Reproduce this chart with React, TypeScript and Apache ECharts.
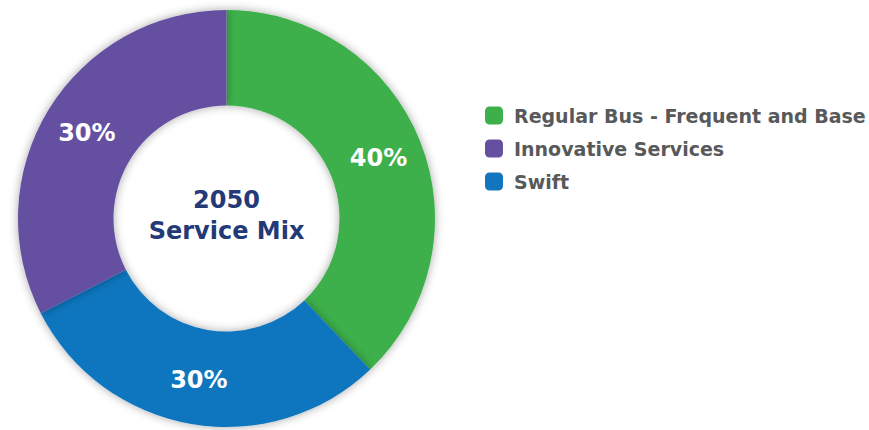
import React, { useEffect, useRef } from "react";
import * as echarts from "echarts";

const categories = ["Regular Bus - Frequent and Base", "Swift", "Innovative Services"];
const sliceValues = [37.9, 29.6, 32.5];
const sliceLabels = ["40%", "30%", "30%"];
const sliceColors = ["#3DB04B", "#1176BE", "#654FA0"];
const legendOrder = ["Regular Bus - Frequent and Base", "Innovative Services", "Swift"];
const centerTitle = "2050\nService Mix";

const FONT = "DejaVu Sans";

export default function App() {
  const ref = useRef<HTMLDivElement>(null);
  useEffect(() => {
    if (!ref.current) return;
    const chart = echarts.init(ref.current, null, { renderer: "svg" });
    chart.setOption({
      animation: false,
      backgroundColor: "#ffffff",
      legend: {
        data: legendOrder,
        orient: "vertical",
        left: 480,
        top: 101,
        itemWidth: 18,
        itemHeight: 18,
        itemGap: 14,
        icon: "roundRect",
        textStyle: {
          fontFamily: FONT,
          fontWeight: 700,
          fontSize: 19,
          color: "#58595B",
          padding: [0, 0, 0, 6],
        },
        selectedMode: false,
      },
      graphic: [
        {
          type: "text",
          x: 226.5,
          y: 215,
          style: {
            text: centerTitle,
            textAlign: "center",
            textVerticalAlign: "middle",
            fontFamily: FONT,
            fontWeight: 700,
            fontSize: 24,
            lineHeight: 31,
            fill: "#243A78",
          },
          z: 10,
        },
      ],
      series: [
        {
          type: "pie",
          center: [226.5, 218.5],
          radius: [113, 208.5],
          startAngle: 90,
          clockwise: true,
          silent: true,
          itemStyle: {
            shadowBlur: 10,
            shadowColor: "rgba(0,0,0,0.35)",
          },
          label: {
            show: true,
            position: "inside",
            color: "#ffffff",
            fontFamily: FONT,
            fontWeight: 700,
            fontSize: 24,
            formatter: (p: any) => sliceLabels[p.dataIndex],
          },
          labelLine: { show: false },
          data: categories.map((name, i) => ({
            name,
            value: sliceValues[i],
            itemStyle: { color: sliceColors[i] },
          })),
        },
      ],
    });
    return () => chart.dispose();
  }, []);
  return (
    <div
      ref={ref}
      style={{ position: "absolute", left: 0, top: 0, width: 869, height: 430 }}
    />
  );
}
